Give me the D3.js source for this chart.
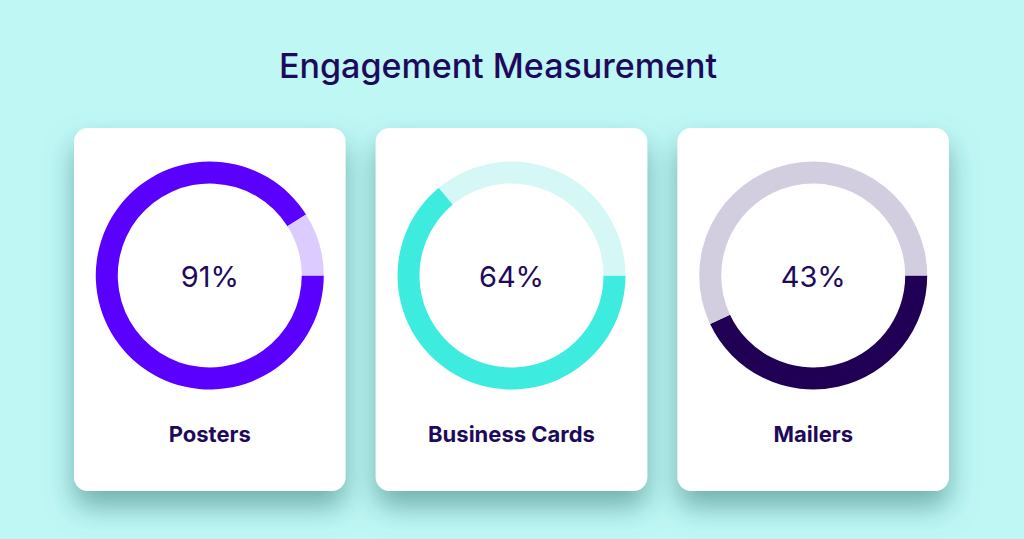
<!DOCTYPE html>
<html>
<head>
<meta charset="utf-8">
<script src="https://cdn.jsdelivr.net/npm/d3@7"></script>
<style>
  html, body { margin: 0; padding: 0; background: #bff7f5; }
  svg { display: block; }
</style>
</head>
<body>
<svg id="chart" width="1024" height="539"></svg>
<script>
const title = "Engagement Measurement";
const categories = ["Posters", "Business Cards", "Mailers"];
const values = [91, 64, 43];
const fillColors = ["#5a00ff", "#3eebdf", "#1f0055"];
const trackColors = ["#dccbff", "#d5f8f6", "#d3cde0"];

const W = 1024, H = 539;
const svg = d3.select("#chart");

svg.append("rect").attr("width", W).attr("height", H).attr("fill", "#bff7f5");

const defs = svg.append("defs");
const f = defs.append("filter").attr("id", "shadow")
  .attr("x", "-30%").attr("y", "-20%").attr("width", "160%").attr("height", "150%");
f.append("feDropShadow").attr("dx", 0).attr("dy", 16).attr("stdDeviation", 14)
  .attr("flood-color", "#2f7772").attr("flood-opacity", 0.55);

svg.append("text")
  .attr("x", 498).attr("y", 78)
  .attr("text-anchor", "middle")
  .attr("font-family", "Inter, Roboto, sans-serif")
  .attr("font-weight", 500)
  .attr("font-size", 34)
  .attr("fill", "#1e0a5c")
  .attr("textLength", 438).attr("lengthAdjust", "spacingAndGlyphs")
  .text(title);

const x = d3.scaleBand().domain(categories).range([74, 949]).paddingInner(0.1).paddingOuter(0);
const cardTop = 128, cardH = 363;
const outerR = 114, innerR = 92, cy = 275.5;

const pie = d3.pie().sort(null).startAngle(Math.PI / 2).endAngle(Math.PI / 2 + 2 * Math.PI);
const arc = d3.arc().innerRadius(innerR).outerRadius(outerR);

const cards = svg.selectAll("g.card").data(categories).join("g")
  .attr("class", "card")
  .attr("transform", d => `translate(${x(d)},${cardTop})`);

cards.append("rect")
  .attr("width", x.bandwidth()).attr("height", cardH)
  .attr("rx", 14).attr("ry", 14)
  .attr("fill", "#ffffff")
  .attr("filter", "url(#shadow)");

cards.each(function (d, i) {
  const g = d3.select(this);
  const cx = x.bandwidth() / 2;
  const donut = g.append("g").attr("transform", `translate(${cx},${cy - cardTop})`);
  donut.selectAll("path").data(pie([values[i], 100 - values[i]])).join("path")
    .attr("d", arc)
    .attr("fill", (p, j) => j === 0 ? fillColors[i] : trackColors[i]);
  donut.append("text")
    .attr("y", 11)
    .attr("text-anchor", "middle")
    .attr("font-family", "Inter, Roboto, sans-serif")
    .attr("font-weight", 400)
    .attr("font-size", 29)
    .attr("fill", "#1e0a5c")
    .text(values[i] + "%");
  g.append("text")
    .attr("x", cx).attr("y", 442 - cardTop)
    .attr("text-anchor", "middle")
    .attr("font-family", "Inter, Roboto, sans-serif")
    .attr("font-weight", 700)
    .attr("font-size", 22)
    .attr("fill", "#1e0a5c")
    .text(d);
});
</script>
</body>
</html>
